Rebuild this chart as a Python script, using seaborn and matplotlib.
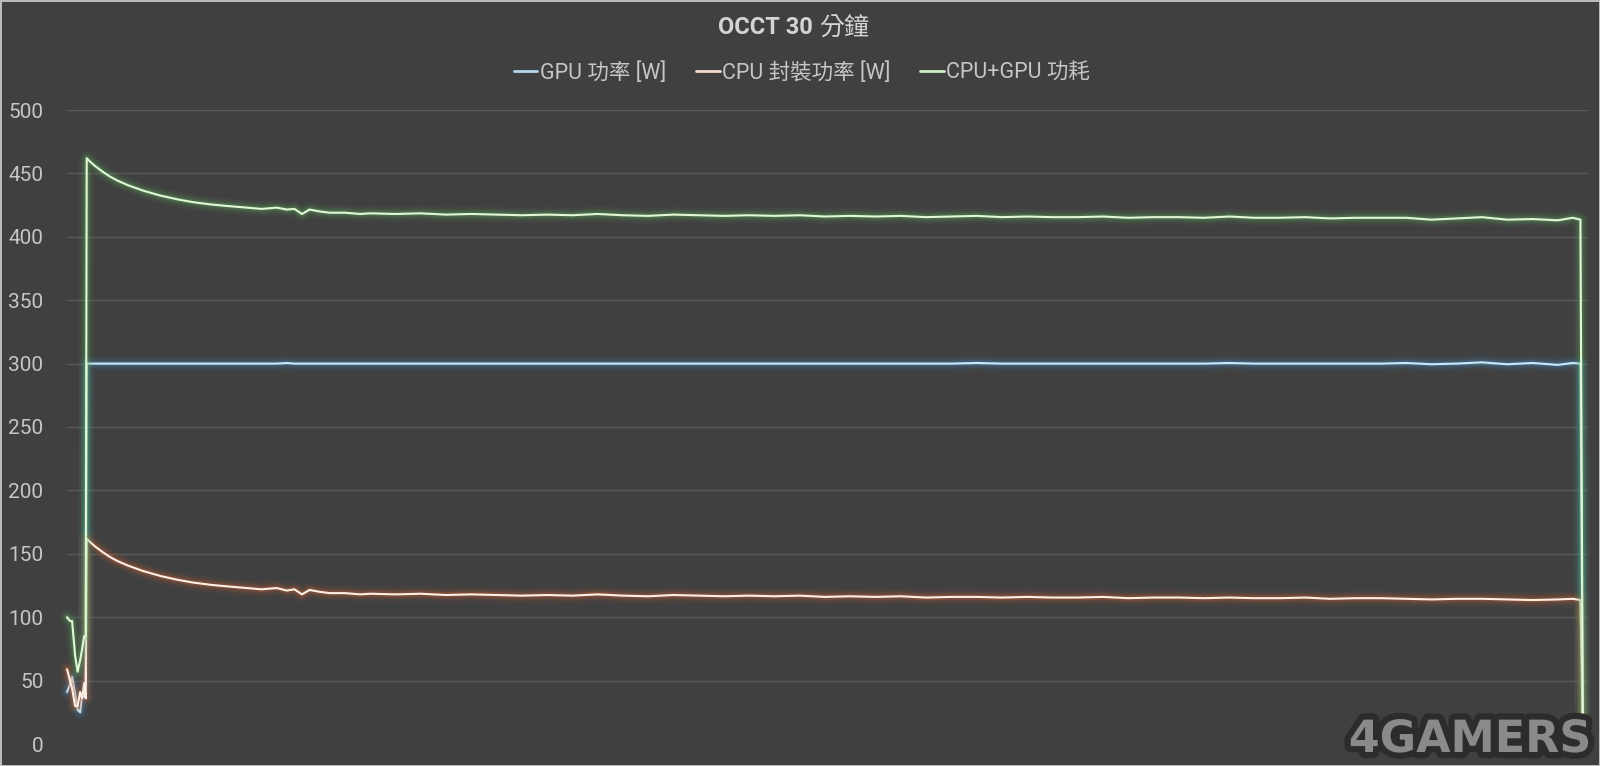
import pandas as pd
import matplotlib
matplotlib.use("Agg")
import matplotlib.pyplot as plt
import matplotlib.patheffects as pe
from matplotlib.lines import Line2D
import seaborn as sns

# sample times in minutes
minutes = [
    0.00, 0.06, 0.10, 0.16, 0.21, 0.26, 0.30, 0.34, 0.37,
    0.39, 0.45, 0.55, 0.70, 0.85, 1.00, 1.20, 1.50, 1.85, 2.20, 2.50, 2.85,
    3.20, 3.50, 3.85, 4.15, 4.35, 4.50, 4.65, 4.80, 5.00, 5.20, 5.50, 5.80,
    6.0, 6.5, 7.0, 7.5, 8.0, 8.5, 9.0, 9.5, 10.0, 10.5, 11.0, 11.5,
    12.0, 12.5, 13.0, 13.5, 14.0, 14.5, 15.0, 15.5, 16.0, 16.5, 17.0, 17.5,
    18.0, 18.5, 19.0, 19.5, 20.0, 20.5, 21.0, 21.5, 22.0, 22.5, 23.0, 23.5,
    24.0, 24.5, 25.0, 25.5, 26.0, 26.5, 27.0, 27.5, 28.0, 28.5, 29.0, 29.5,
    29.8, 29.95, 30.0,
]

cpu_power = [
    59, 50, 44, 30, 30, 41, 36, 48, 36,
    162, 159.5, 156, 151.5, 147.5, 144.3, 140.8, 136.5, 132.5, 129.4, 127.3, 125.5,
    124.2, 123.2, 122, 123, 121, 122, 118, 121.5, 120, 119, 119, 118,
    118.5, 118, 118.5, 117.5, 118, 117.5, 117, 117.5, 117, 118, 117, 116.5,
    117.5, 117, 116.5, 117, 116.5, 117, 116, 116.5, 116, 116.5, 115.5, 116,
    116, 115.5, 116, 115.5, 115.5, 116, 115, 115.5, 115.5, 115, 115.5, 115,
    115, 115.5, 114.5, 115, 115, 114.5, 114, 114.5, 114.5, 114, 113.5, 114,
    114.5, 113.5, 0,
]

gpu_power = [
    41, 47, 53, 40, 27, 25, 39, 37, 49,
    300, 300, 300, 300, 300, 300, 300, 300, 300, 300, 300, 300,
    300, 300, 300, 300, 300.5, 300, 300, 300, 300, 300, 300, 300,
    300, 300, 300, 300, 300, 300, 300, 300, 300, 300, 300, 300,
    300, 300, 300, 300, 300, 300, 300, 300, 300, 300, 300, 300,
    300.5, 300, 300, 300, 300, 300, 300, 300, 300, 300, 300.5, 300,
    300, 300, 300, 300, 300, 300.5, 299.5, 300, 301, 299.5, 300.5, 299,
    300.5, 300, 0,
]

total_power = [c + g for c, g in zip(cpu_power, gpu_power)]

series_names = ["GPU 功率 [W]", "CPU 封裝功率 [W]", "CPU+GPU 功耗"]
core_colors = ["#cbe8f8", "#fdeee6", "#e0f7d8"]
glow_colors = ["#3f8fc8", "#d8682f", "#5db35a"]
legend_colors = ["#b4d8ec", "#f4dccd", "#cfeec4"]

df = pd.concat([
    pd.DataFrame({"t": minutes, "w": vals, "series": name})
    for name, vals in zip(series_names, [gpu_power, cpu_power, total_power])
])

bg = "#404040"
sns.set_style("dark", {"axes.facecolor": bg, "figure.facecolor": bg})
plt.rcParams["font.family"] = ["Roboto", "Noto Sans CJK TC", "DejaVu Sans"]

fig = plt.figure(figsize=(16, 7.66), dpi=100)
ax = fig.add_axes([67 / 1600, 1 - 744 / 766, (1588 - 67) / 1600, (744 - 110) / 766])
ax.set_facecolor(bg)

for name, core, glow in zip(series_names, core_colors, glow_colors):
    sub = df[df["series"] == name]
    for lw, a in [(11, 0.07), (7, 0.13), (4, 0.22)]:
        sns.lineplot(data=sub, x="t", y="w", color=glow, linewidth=lw, alpha=a,
                     estimator=None, sort=False, legend=False, ax=ax,
                     solid_capstyle="round", clip_on=False)
    sns.lineplot(data=sub, x="t", y="w", color=core, linewidth=1.5,
                 estimator=None, sort=False, legend=False, ax=ax, clip_on=False)

ax.set_xlim(0, 30.1)
ax.set_ylim(0, 500)
ax.set_yticks(range(0, 501, 50))
ax.set_xticks([])
ax.set_xlabel("")
ax.set_ylabel("")
ax.grid(axis="y", color="#595959", linewidth=1)
ax.grid(axis="x", visible=False)
ax.set_axisbelow(True)
for s in ax.spines.values():
    s.set_visible(False)
ax.tick_params(axis="y", length=0, pad=17, labelsize=15, labelcolor="#c6c6c6")

# title
fig.text(813 / 1600, 1 - 28 / 766, "OCCT 30", ha="right", va="center",
         fontsize=17, fontweight="bold", color="#d4d4d4")
fig.text(819 / 1600, 1 - 28 / 766, "分鐘", ha="left", va="center",
         fontsize=18, color="#d4d4d4")

handles = [Line2D([0], [0], color=c, linewidth=2) for c in legend_colors]
leg = fig.legend(handles, series_names, loc="center", bbox_to_anchor=(802 / 1600, 1 - 73 / 766),
                 ncol=3, frameon=False, fontsize=15.5, handlelength=1.1, handletextpad=0.1,
                 columnspacing=1.4)
for txt in leg.get_texts():
    txt.set_color("#c6c6c6")

# watermark
fig.text(1592 / 1600, 1 - 761 / 766, "4GAMERS", ha="right", va="bottom",
         fontsize=32, fontweight="bold", family="DejaVu Sans", color="#8a8a8a",
         path_effects=[pe.Stroke(linewidth=9, foreground="#2c2c2c"), pe.Normal()])

fig.patch.set_edgecolor("#bcbcbc")
fig.patch.set_linewidth(2)

fig.savefig("out.png", dpi=100, facecolor=fig.get_facecolor(), edgecolor=fig.patch.get_edgecolor())
